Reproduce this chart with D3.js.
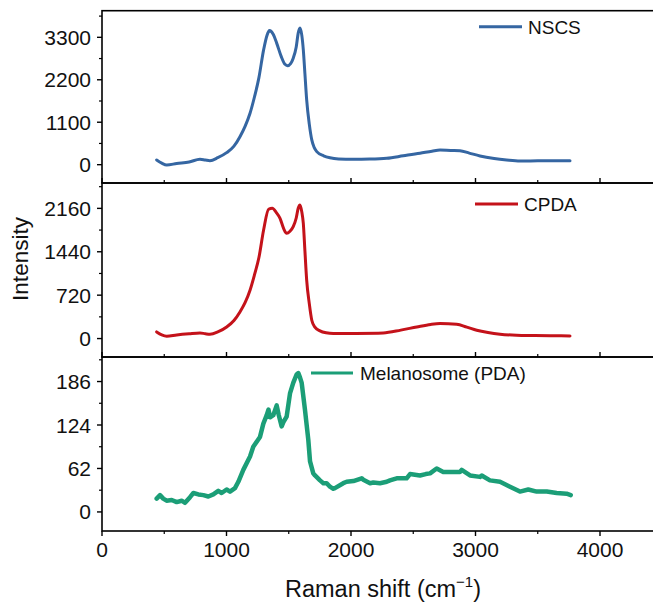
<!DOCTYPE html>
<html>
<head>
<meta charset="utf-8">
<script src="https://cdn.jsdelivr.net/npm/d3@7"></script>
<style>
  body { margin: 0; background: #fff; }
  text { font-family: Arial, 'Liberation Sans', sans-serif; fill: #111; }
</style>
</head>
<body>
<svg id="chartSvg"></svg>
<script>
// series names and colours
let names = ['NSCS', 'CPDA', 'Melanosome (PDA)']
let colors = ['#3566a2', '#c4121a', '#1b9e77']

// Raman shift (cm-1) / intensity pairs
let nscs = [
  [439,122],[480,40],[520,-8],[600,30],[700,70],[787,140],[830,120],[867,104],[930,180],
  [1001,311],[1060,480],[1108,726],[1150,1000],[1189,1333],[1225,1760],[1260,2250],
  [1298,2975],[1325,3350],[1345,3476],[1375,3380],[1403,3150],[1440,2800],[1470,2600],
  [1490,2565],[1515,2620],[1536,2760],[1560,3050],[1576,3409],[1590,3539],[1605,3350],
  [1617,2975],[1630,2350],[1644,1679],[1665,1050],[1685,641],[1705,440],[1725,337],
  [1780,230],[1831,180],[1900,150],[2019,140],[2150,145],[2287,166],[2420,230],[2554,296],
  [2650,350],[2715,381],[2800,370],[2875,363],[2950,300],[3036,226],[3150,160],[3250,122],
  [3357,96],[3500,100],[3650,104],[3759,104]
]
let cpda = [
  [439,110],[480,60],[520,38],[600,60],[700,80],[787,93],[830,80],[867,72],[930,110],
  [1001,193],[1060,300],[1108,442],[1150,600],[1189,803],[1225,1060],[1260,1340],
  [1298,1801],[1338,2145],[1368,2162],[1400,2090],[1430,1995],[1460,1820],[1483,1746],
  [1510,1780],[1536,1856],[1560,2000],[1576,2162],[1590,2216],[1605,2100],[1617,1912],
  [1630,1450],[1644,970],[1665,580],[1685,304],[1710,190],[1751,127],[1800,95],[1858,83],
  [2000,85],[2259,93],[2400,140],[2528,193],[2640,235],[2715,249],[2849,238],[2930,190],
  [3010,138],[3100,100],[3197,72],[3330,55],[3464,50],[3600,46],[3759,44]
]
let pda = [
  [439,19],[466,24],[492,19],[519,16],[560,17],[600,14],[640,16],[667,13],[707,21],[734,27],
  [774,25],[814,24],[854,22],[894,25],[934,30],[961,27],[1001,32],[1028,29],[1068,34],
  [1095,43],[1135,60],[1189,79],[1215,93],[1269,107],[1296,126],[1323,138],[1337,146],
  [1350,135],[1376,138],[1403,152],[1420,138],[1443,122],[1457,128],[1483,136],[1510,169],
  [1536,184],[1563,196],[1577,198],[1590,192],[1604,184],[1630,146],[1657,103],[1671,72],
  [1697,55],[1711,52],[1751,45],[1778,41],[1805,41],[1831,36],[1858,33],[1871,34],[1938,41],
  [1965,43],[2019,44],[2086,48],[2099,46],[2153,41],[2179,42],[2233,41],[2287,43],[2313,45],
  [2367,48],[2394,48],[2447,48],[2474,54],[2554,52],[2600,54],[2635,55],[2688,62],[2741,57],
  [2822,57],[2875,57],[2889,60],[2956,52],[3036,50],[3050,52],[3116,45],[3197,43],[3277,36],
  [3357,29],[3424,32],[3491,29],[3572,29],[3652,27],[3732,26],[3765,24]
]
let series = [nscs, cpda, pda]

// axis setup
let xTicks = [0, 1000, 2000, 3000, 4000]
let xMinor = [500, 1500, 2500, 3500]
let yTicks = [[0, 1100, 2200, 3300], [0, 720, 1440, 2160], [0, 62, 124, 186]]
let yMinor = [[550, 1650, 2750, 3850], [360, 1080, 1800, 2520], [31, 93, 155, 217]]
let yDomains = [[-475, 3990], [-306, 2581], [-27.2, 221]]

let width = 653, height = 603
let left = 102
let panelTops = [10.7, 183, 357]
let panelBottoms = [183, 357, 531]

const svg = d3.select('#chartSvg')
    .attr('width', width)
    .attr('height', height)

let x = d3.scaleLinear().domain([0, 4500]).range([left, left + 560.25])

let legendPos = [
  {x1: 479, x2: 522, y: 26.7, tx: 528},
  {x1: 475, x2: 518, y: 204, tx: 524},
  {x1: 311, x2: 353, y: 373, tx: 360}
]

for (let i = 0; i < 3; i++) {
  let y = d3.scaleLinear().domain(yDomains[i]).range([panelBottoms[i], panelTops[i]])
  let g = svg.append('g')

  let line = d3.line()
      .x(d => x(d[0]))
      .y(d => y(d[1]))
      .curve(i < 2 ? d3.curveMonotoneX : d3.curveLinear)

  g.append('path')
      .datum(series[i])
      .attr('d', line)
      .attr('fill', 'none')
      .attr('stroke', colors[i])
      .attr('stroke-width', i < 2 ? 3 : 4.5)
      .attr('stroke-linejoin', 'round')
      .attr('stroke-linecap', 'round')

  // frame
  g.append('rect')
      .attr('x', left)
      .attr('y', panelTops[i])
      .attr('width', 600)
      .attr('height', panelBottoms[i] - panelTops[i])
      .attr('fill', 'none')
      .attr('stroke', '#000')
      .attr('stroke-width', 1.6)

  // y ticks
  g.selectAll('.ymaj')
    .data(yTicks[i]).join('line')
      .attr('x1', left - 5).attr('x2', left)
      .attr('y1', d => y(d)).attr('y2', d => y(d))
      .attr('stroke', '#000').attr('stroke-width', 1.4)
  g.selectAll('.ymin')
    .data(yMinor[i]).join('line')
      .attr('x1', left - 3).attr('x2', left)
      .attr('y1', d => y(d)).attr('y2', d => y(d))
      .attr('stroke', '#000').attr('stroke-width', 1.2)
  g.selectAll('.ylab')
    .data(yTicks[i]).join('text')
      .attr('x', left - 11)
      .attr('y', d => y(d))
      .attr('dy', '0.36em')
      .attr('text-anchor', 'end')
      .style('font-size', '21px')
      .text(d => d)

  // x ticks: inward for the upper panels, outward for the last
  let dir = i < 2 ? -1 : 1
  let yb = panelBottoms[i]
  g.selectAll('.xmaj')
    .data(xTicks).join('line')
      .attr('x1', d => x(d)).attr('x2', d => x(d))
      .attr('y1', yb).attr('y2', yb + dir * 5)
      .attr('stroke', '#000').attr('stroke-width', 1.4)
  g.selectAll('.xmin')
    .data(xMinor).join('line')
      .attr('x1', d => x(d)).attr('x2', d => x(d))
      .attr('y1', yb).attr('y2', yb + dir * 3)
      .attr('stroke', '#000').attr('stroke-width', 1.2)

  // legend
  let lp = legendPos[i]
  g.append('line')
      .attr('x1', lp.x1).attr('x2', lp.x2)
      .attr('y1', lp.y).attr('y2', lp.y)
      .attr('stroke', colors[i]).attr('stroke-width', 3)
  g.append('text')
      .attr('x', lp.tx).attr('y', lp.y)
      .attr('dy', '0.36em')
      .style('font-size', '19px')
      .text(names[i])
}

svg.selectAll('.xlab')
  .data(xTicks).join('text')
    .attr('x', d => x(d))
    .attr('y', 557)
    .attr('text-anchor', 'middle')
    .style('font-size', '21px')
    .text(d => d)

let xl = svg.append('text')
    .attr('x', 383)
    .attr('y', 597)
    .attr('text-anchor', 'middle')
    .style('font-size', '23.5px')
xl.append('tspan').text('Raman shift (cm')
xl.append('tspan').attr('dy', -10).style('font-size', '15px').text('\u22121')
xl.append('tspan').attr('dy', 10).text(')')

svg.append('text')
    .attr('transform', 'translate(28,259) rotate(-90)')
    .attr('text-anchor', 'middle')
    .style('font-size', '22.5px')
    .text('Intensity')
</script>
</body>
</html>
